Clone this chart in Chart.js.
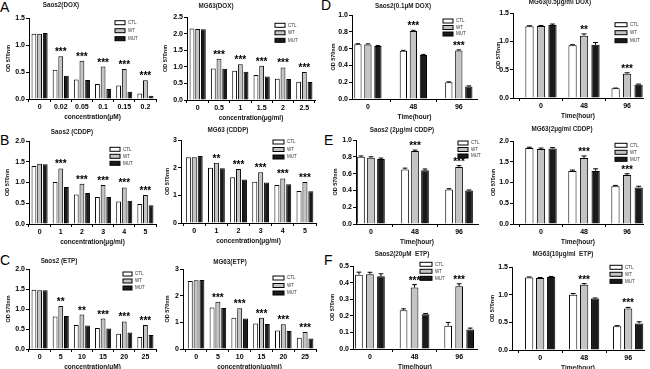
<!DOCTYPE html>
<html>
<head>
<meta charset="utf-8">
<script src="https://cdn.jsdelivr.net/npm/chart.js@4.4.1/dist/chart.umd.min.js"></script>
<style>
body { margin: 0; background: #fff; }
#fig { position: relative; width: 650px; height: 369px; overflow: hidden; font-family: "Liberation Sans", Arial, sans-serif; }
#fig canvas { position: absolute; }
.lt { position: absolute; font-size: 14px; line-height: 14px; color: #000; }
</style>
</head>
<body>
<div id="fig">
  <div class="lt" style="left:0px;top:0px">A</div>
  <div class="lt" style="left:0px;top:133px">B</div>
  <div class="lt" style="left:0px;top:253px">C</div>
  <div class="lt" style="left:321px;top:-2px">D</div>
  <div class="lt" style="left:324px;top:133px">E</div>
  <div class="lt" style="left:324px;top:253px">F</div>
</div>
<script>
const series = ['CTL', 'WT', 'MUT'];

// dose panels
const concDoxSaos = ['0', '0.02', '0.05', '0.1', '0.15', '0.2'];
const concDoxMg = ['0', '0.5', '1', '1.5', '2', '2.5'];
const concCddp = ['0', '1', '2', '3', '4', '5'];
const concEtp = ['0', '5', '10', '15', '20', '25'];
const hours = ['0', '48', '96'];

// A
const doxSaosCtl = [1.21, 0.54, 0.36, 0.28, 0.25, 0.10];
const doxSaosWt  = [1.21, 0.79, 0.71, 0.60, 0.555, 0.345];
const doxSaosMut = [1.22, 0.43, 0.35, 0.185, 0.136, 0.06];
const doxSaosSig = ['', '***', '***', '***', '***', '***'];

const doxMgCtl = [2.15, 0.95, 0.88, 0.75, 0.64, 0.55];
const doxMgWt  = [2.14, 1.24, 1.08, 1.03, 0.98, 0.84];
const doxMgMut = [2.13, 0.94, 0.85, 0.71, 0.63, 0.54];
const doxMgSig = ['', '***', '***', '***', '***', '***'];

// B
const cddpSaosCtl = [1.40, 1.01, 0.71, 0.65, 0.54, 0.48];
const cddpSaosWt  = [1.45, 1.34, 0.97, 0.94, 0.88, 0.70];
const cddpSaosMut = [1.44, 0.89, 0.75, 0.65, 0.56, 0.45];
const cddpSaosSig = ['', '***', '***', '***', '***', '***'];

const cddpMgCtl = [2.38, 2.00, 1.65, 1.49, 1.37, 1.16];
const cddpMgWt  = [2.38, 2.18, 1.95, 1.83, 1.61, 1.48];
const cddpMgMut = [2.42, 1.98, 1.57, 1.46, 1.40, 1.15];
const cddpMgSig = ['', '**', '***', '***', '***', '***'];

// C
const etpSaosCtl = [1.48, 0.81, 0.60, 0.525, 0.38, 0.30];
const etpSaosWt  = [1.47, 1.075, 0.86, 0.76, 0.69, 0.60];
const etpSaosMut = [1.47, 0.825, 0.59, 0.51, 0.41, 0.35];
const etpSaosSig = ['', '**', '**', '***', '***', '***'];

const etpMgCtl = [2.55, 1.56, 1.175, 0.96, 0.69, 0.425];
const etpMgWt  = [2.575, 1.775, 1.525, 1.175, 0.93, 0.64];
const etpMgMut = [2.59, 1.54, 1.14, 0.94, 0.675, 0.39];
const etpMgSig = ['', '***', '***', '***', '***', '***'];

// D
const tDoxSaosCtl = [0.652, 0.573, 0.198];
const tDoxSaosWt  = [0.65, 0.81, 0.577];
const tDoxSaosMut = [0.63, 0.525, 0.15];
const tDoxSaosErr = [[0.006, 0.006, 0.006], [0.006, 0.008, 0.008], [0.006, 0.006, 0.006]];
const tDoxSaosSig = ['', '***', '***'];

const tDoxMgCtl = [1.265, 0.93, 0.17];
const tDoxMgWt  = [1.27, 1.10, 0.43];
const tDoxMgMut = [1.29, 0.94, 0.235];
const tDoxMgErr = [[0.01, 0.01, 0.005], [0.01, 0.03, 0.015], [0.015, 0.04, 0.01]];
const tDoxMgSig = ['', '**', '***'];

// E
const tCddpSaosCtl = [0.80, 0.65, 0.41];
const tCddpSaosWt  = [0.79, 0.87, 0.68];
const tCddpSaosMut = [0.775, 0.64, 0.40];
const tCddpSaosErr = [[0.01, 0.015, 0.01], [0.01, 0.01, 0.015], [0.01, 0.015, 0.005]];
const tCddpSaosSig = ['', '***', '***'];

const tCddpMgCtl = [1.83, 1.28, 0.91];
const tCddpMgWt  = [1.81, 1.59, 1.18];
const tCddpMgMut = [1.82, 1.28, 0.88];
const tCddpMgErr = [[0.02, 0.02, 0.02], [0.02, 0.05, 0.03], [0.02, 0.05, 0.03]];
const tCddpMgSig = ['', '***', '***'];

// F
const tEtpSaosCtl = [0.448, 0.234, 0.14];
const tEtpSaosWt  = [0.45, 0.37, 0.378];
const tEtpSaosMut = [0.438, 0.21, 0.118];
const tEtpSaosErr = [[0.015, 0.008, 0.02], [0.012, 0.018, 0.015], [0.015, 0.004, 0.008]];
const tEtpSaosSig = ['', '***', '***'];

const tEtpMgCtl = [1.31, 1.00, 0.43];
const tEtpMgWt  = [1.30, 1.18, 0.75];
const tEtpMgMut = [1.32, 0.93, 0.48];
const tEtpMgErr = [[0.01, 0.02, 0.01], [0.01, 0.02, 0.02], [0.01, 0.01, 0.03]];
const tEtpMgSig = ['', '***', '***'];

const fills = ['#ffffff', '#c4c4c4', '#1e1919'];
const FONT = '"Liberation Sans", Arial, sans-serif';

const panels = [
  { title: 'Saos2(DOX)', cats: concDoxSaos, vals: [doxSaosCtl, doxSaosWt, doxSaosMut], sig: doxSaosSig, xTitle: 'concentration(μM)',
    L: 29, T: 18.3, B: 99.3, R: 156, xmin: -0.5, xmax: 5.5, ymax: 1.5, step: 0.5, dec: 1, yt: 21, tx: 61, ty: 6, lx: 115, ly: 23, ldy: 8, lw: 10, cat: 0.8, bar: 0.85 },
  { title: 'MG63(DOX)', cats: concDoxMg, vals: [doxMgCtl, doxMgWt, doxMgMut], sig: doxMgSig, xTitle: 'concentration(μg/ml)',
    L: 187, T: 16.7, B: 100, R: 315, xmin: -0.5, xmax: 5.5, ymax: 2.5, step: 0.5, dec: 1, yt: 22, tx: 216, ty: 6, lx: 275, ly: 25, ldy: 7.5, lw: 10, cat: 0.8, bar: 0.85 },
  { title: 'Saos2 (CDDP)', cats: concCddp, vals: [cddpSaosCtl, cddpSaosWt, cddpSaosMut], sig: cddpSaosSig, xTitle: 'concentration(μg/ml)',
    L: 29, T: 140.7, B: 224, R: 156, xmin: -0.5, xmax: 5.5, ymax: 2, step: 0.5, dec: 1, yt: 22, tx: 72, ty: 132, lx: 110, ly: 149, ldy: 7, lw: 10, cat: 0.8, bar: 0.85 },
  { title: 'MG63 (CDDP)', cats: concCddp, vals: [cddpMgCtl, cddpMgWt, cddpMgMut], sig: cddpMgSig, xTitle: 'concentration(μg/ml)',
    L: 181, T: 140, B: 223.3, R: 316, xmin: -0.6, xmax: 5.5, ymax: 3, step: 1, dec: 0, yt: 14, tx: 228, ty: 130, lx: 273, ly: 142, ldy: 7.5, lw: 11, cat: 0.8, bar: 0.85 },
  { title: 'Saos2 (ETP)', cats: concEtp, vals: [etpSaosCtl, etpSaosWt, etpSaosMut], sig: etpSaosSig, xTitle: 'concentration(μM)',
    L: 29, T: 269, B: 349, R: 156, xmin: -0.5, xmax: 5.5, ymax: 2, step: 0.5, dec: 1, yt: 21, tx: 59, ty: 261, lx: 123, ly: 274, ldy: 7, lw: 9, cat: 0.8, bar: 0.85 },
  { title: 'MG63(ETP)', cats: concEtp, vals: [etpMgCtl, etpMgWt, etpMgMut], sig: etpMgSig, xTitle: 'concentration(μg/ml)',
    L: 183, T: 269, B: 349, R: 316, xmin: -0.6, xmax: 5.5, ymax: 3, step: 1, dec: 0, yt: 16, tx: 230, ty: 262, lx: 273, ly: 278, ldy: 7.5, lw: 11, cat: 0.8, bar: 0.85 },
  { title: 'Saos2(0.1μM DOX)', cats: hours, vals: [tDoxSaosCtl, tDoxSaosWt, tDoxSaosMut], err: tDoxSaosErr, sig: tDoxSaosSig, xTitle: 'Time(hour)',
    L: 352, T: 15, B: 99.3, R: 477, xmin: -0.35, xmax: 2.4, ymax: 1, step: 0.2, dec: 1, yt: 19, tx: 403, ty: 6, lx: 443, ly: 21, ldy: 6.5, lw: 10, cat: 0.66, bar: 0.73 },
  { title: 'MG63(0.5μg/ml DOX)', cats: hours, vals: [tDoxMgCtl, tDoxMgWt, tDoxMgMut], err: tDoxMgErr, sig: tDoxMgSig, xTitle: 'Time(hour)',
    L: 513, T: 13.3, B: 98.3, R: 643, xmin: -0.65, xmax: 2.37, ymax: 1.5, step: 0.5, dec: 1, yt: 15, tx: 560, ty: 3, lx: 615, ly: 25, ldy: 8, lw: 12, cat: 0.8, bar: 0.72 },
  { title: 'Saos2 (2μg/ml CDDP)', cats: hours, vals: [tCddpSaosCtl, tCddpSaosWt, tCddpSaosMut], err: tCddpSaosErr, sig: tCddpSaosSig, xTitle: 'Time(hour)',
    L: 356, T: 140, B: 224, R: 478, xmin: -0.34, xmax: 2.43, ymax: 1, step: 0.2, dec: 1, yt: 21, tx: 402, ty: 130, lx: 458, ly: 143, ldy: 6.5, lw: 10, cat: 0.68, bar: 0.77 },
  { title: 'MG63(2μg/ml CDDP)', cats: hours, vals: [tCddpMgCtl, tCddpMgWt, tCddpMgMut], err: tCddpMgErr, sig: tCddpMgSig, xTitle: 'Time(hour)',
    L: 513, T: 140.7, B: 224, R: 643, xmin: -0.65, xmax: 2.37, ymax: 2, step: 0.5, dec: 1, yt: 20, tx: 562, ty: 129, lx: 615, ly: 145, ldy: 7, lw: 12, cat: 0.81, bar: 0.71 },
  { title: 'Saos2(20μM  ETP)', cats: hours, vals: [tEtpSaosCtl, tEtpSaosWt, tEtpSaosMut], err: tEtpSaosErr, sig: tEtpSaosSig, xTitle: 'Time(hour)',
    L: 353, T: 265.7, B: 349, R: 477, xmin: -0.38, xmax: 2.4, ymax: 0.5, step: 0.1, dec: 1, yt: 21, tx: 402, ty: 254, lx: 420, ly: 264, ldy: 7, lw: 12, cat: 0.74, bar: 0.7 },
  { title: 'MG63(10μg/ml  ETP)', cats: hours, vals: [tEtpMgCtl, tEtpMgWt, tEtpMgMut], err: tEtpMgErr, sig: tEtpMgSig, xTitle: 'Time(hour)',
    L: 512, T: 266.7, B: 350, R: 644, xmin: -0.64, xmax: 2.36, ymax: 1.5, step: 0.5, dec: 1, yt: 20, tx: 563, ty: 254, lx: 610, ly: 267, ldy: 7, lw: 12, cat: 0.75, bar: 0.75 }
];

const fig = document.getElementById('fig');

function makeChart(p) {
  const cl = p.L - 30, ct = p.T - 16;
  const cw = Math.round(p.R + 8 - cl), ch = Math.round(p.B + 24 - ct);
  const cv = document.createElement('canvas');
  cv.width = cw;
  cv.height = ch;
  cv.style.left = cl + 'px';
  cv.style.top = ct + 'px';
  fig.appendChild(cv);

  const datasets = series.map((name, k) => ({
    label: name,
    data: p.vals[k].map((v, i) => ({ x: i, y: v })),
    backgroundColor: fills[k],
    borderColor: '#000',
    borderWidth: 1,
    categoryPercentage: p.cat,
    barPercentage: p.bar
  }));

  // error caps, stars, title and legend
  const extras = {
    id: 'extras',
    afterDatasetsDraw(chart) {
      const ctx = chart.ctx;
      const ys = chart.scales.y;
      ctx.save();
      ctx.strokeStyle = '#000';
      ctx.lineWidth = 1;
      if (p.err) {
        for (let k = 0; k < 3; k++) {
          chart.getDatasetMeta(k).data.forEach((el, i) => {
            const top = ys.getPixelForValue(p.vals[k][i] + p.err[k][i]);
            const hw = el.width * 0.3;
            ctx.beginPath();
            ctx.moveTo(el.x, el.y);
            ctx.lineTo(el.x, top);
            ctx.moveTo(el.x - hw, top);
            ctx.lineTo(el.x + hw, top);
            ctx.stroke();
          });
        }
      }
      ctx.fillStyle = '#000';
      ctx.font = 'bold 10px ' + FONT;
      ctx.textAlign = 'center';
      ctx.textBaseline = 'alphabetic';
      chart.getDatasetMeta(1).data.forEach((el, i) => {
        if (!p.sig[i]) return;
        const e = p.err ? p.err[1][i] : 0;
        const top = ys.getPixelForValue(p.vals[1][i] + e);
        ctx.fillText(p.sig[i], el.x, top - 1);
      });
      ctx.restore();
    },
    afterDraw(chart) {
      const ctx = chart.ctx;
      ctx.save();
      ctx.fillStyle = '#222';
      ctx.font = 'bold 6.3px ' + FONT;
      ctx.textAlign = 'center';
      ctx.textBaseline = 'middle';
      ctx.fillText(p.title, p.tx - cl, p.ty - ct);

      ctx.font = '4.5px ' + FONT;
      ctx.textAlign = 'left';
      ctx.strokeStyle = '#000';
      ctx.lineWidth = 1;
      series.forEach((name, k) => {
        const x = p.lx - cl, y = p.ly + k * p.ldy - ct;
        ctx.fillStyle = fills[k];
        ctx.fillRect(x, y - 2, p.lw, 4);
        ctx.strokeRect(x, y - 2, p.lw, 4);
        ctx.fillStyle = '#333';
        ctx.fillText(name, x + p.lw + 3, y);
      });
      ctx.restore();
    }
  };

  new Chart(cv, {
    type: 'bar',
    data: { datasets },
    options: {
      responsive: false,
      animation: false,
      layout: { padding: { left: 0, top: 16, right: 8, bottom: 0 } },
      plugins: { legend: { display: false }, tooltip: { enabled: false } },
      scales: {
        x: {
          type: 'linear',
          min: p.xmin,
          max: p.xmax,
          offset: false,
          afterBuildTicks: s => { s.ticks = p.cats.map((c, i) => ({ value: i })); },
          afterFit: s => { s.height = 24; },
          ticks: { callback: v => p.cats[v], autoSkip: false, maxRotation: 0, padding: 1, color: '#000', font: { family: FONT, size: 7, weight: 'bold' } },
          grid: { display: true, drawOnChartArea: false, tickLength: 3, color: '#000' },
          border: { color: '#000', width: 1 },
          title: { display: true, text: p.xTitle, color: '#111', padding: { top: 0, bottom: 2.1 }, font: { family: FONT, size: 6.5, weight: 'bold' } }
        },
        y: {
          min: 0,
          max: p.ymax,
          afterFit: s => { s.width = 30; },
          ticks: { stepSize: p.step, callback: v => v.toFixed(p.dec), padding: 1, color: '#000', font: { family: FONT, size: 7, weight: 'bold' } },
          grid: { display: true, drawOnChartArea: false, tickLength: 3, color: '#000' },
          border: { color: '#000', width: 1 },
          title: { display: true, text: 'OD 570nm', color: '#111', padding: { top: 30 - p.yt - 3.3, bottom: 0 }, font: { family: FONT, size: 5.5, weight: 'bold' } }
        }
      }
    },
    plugins: [extras]
  });
}

panels.forEach(makeChart);
</script>
</body>
</html>
